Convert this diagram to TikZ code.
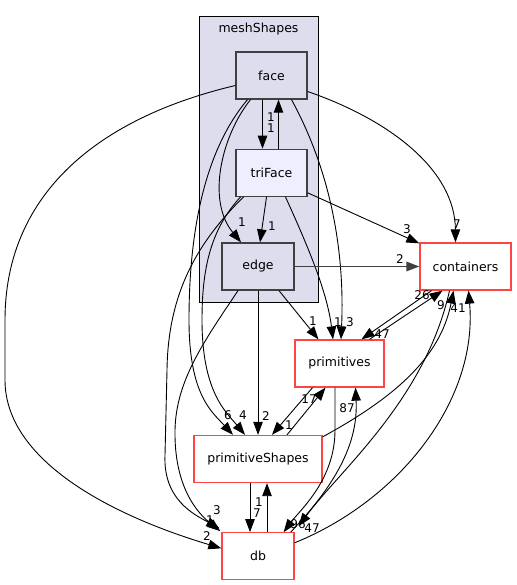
\documentclass[tikz,border=0pt]{standalone}
\usepackage{fontspec}
\setmainfont{DejaVu Sans}
\usepackage{xcolor}
\usepackage{tikz}
\usetikzlibrary{arrows.meta,positioning}
\definecolor{dirfill}{HTML}{DDDDEE}
\definecolor{hlfill}{HTML}{EEEEFF}
\definecolor{dirline}{HTML}{404040}
\definecolor{extline}{HTML}{FF4444}

\begin{document}
\begin{tikzpicture}[
  x=1pt,y=-1pt,
  node distance=49pt,
  font=\fontsize{12.5}{14}\selectfont,
  cluster/.style={draw=black,fill=dirfill,line width=0.9pt},
  dirbox/.style={draw=dirline,fill=dirfill,line width=1.3pt,minimum width=71pt,minimum height=47pt,inner sep=0pt},
  dirhl/.style={dirbox,fill=hlfill},
  extbox/.style={draw=extline,fill=white,line width=1.3pt,minimum height=47pt,inner sep=0pt},
  dep/.style={-{Triangle[length=13pt,width=9.5pt]},line width=0.9pt,draw=black},
  lbl/.style={font=\fontsize{12}{13}\selectfont,inner sep=0pt}
]
\useasboundingbox (0,0) rectangle (516,585);
\draw[cluster] (199,16) rectangle (318,302);
\node (meshlbl) at (258.5,29) {meshShapes};

\node[dirbox] (face) at (271.5,75.5) {face};
\node[dirhl,below=of face] (triFace) {triFace};
\node[dirbox,minimum width=72pt] (edge) at (258,266.5) {edge};
\node[extbox,minimum width=91pt] (containers) at (465.5,266.5) {containers};
\node[extbox,minimum width=89pt] (primitives) at (339.5,363.5) {primitives};
\node[extbox,minimum width=128pt] (primitiveShapes) at (258,459) {primitiveShapes};
\node[extbox,minimum width=72pt,below=of primitiveShapes] (db) {db};

% face
\draw[dep] ([xshift=-9]face.south) -- ([xshift=-9]triFace.north) node[lbl] at (271,128) {1};
\draw[dep] ([xshift=-21]face.south) .. controls (222,135) and (206,200) .. ([xshift=-17]edge.north) node[lbl] at (242,222) {1};
\draw[dep] ([xshift=-24]face.south) .. controls (205,150) and (189,230) .. (189,320) .. controls (189,395) and (212,412) .. ([xshift=-25]primitiveShapes.north) node[lbl] at (228,415) {6};
\draw[dep] ([xshift=20]face.south) .. controls (330,170) and (345,250) .. ([xshift=1.5]primitives.north) node[lbl] at (350,322) {3};
\draw[dep] ([yshift=-16]face.east) .. controls (390,120) and (455,170) .. ([xshift=-10]containers.north) node[lbl] at (457,224) {7};
\draw[dep] ([yshift=-10]face.west) .. controls (90,120) and (5,200) .. (5,320) -- (5,380) .. controls (5,460) and (110,515) .. ([yshift=8]db.west) node[lbl] at (207,536) {2};

% triFace
\draw[dep] ([xshift=7]triFace.north) -- ([xshift=7]face.south) node[lbl] at (271,117) {1};
\draw[dep] ([xshift=-5]triFace.south) -- ([xshift=2]edge.north) node[lbl] at (272,226) {1};
\draw[dep] ([yshift=-20]triFace.east) -- ([yshift=-1]containers.north west) node[lbl] at (407,229) {3};
\draw[dep] ([xshift=14]triFace.south) .. controls (305,240) and (327,290) .. ([xshift=-6.5]primitives.north) node[lbl] at (338,322) {1};
\draw[dep] ([xshift=-31]triFace.south) .. controls (210,230) and (202,270) .. (202,320) .. controls (202,392) and (226,412) .. ([xshift=-13]primitiveShapes.north) node[lbl] at (243,415) {4};
\draw[dep] ([xshift=-28]triFace.south) .. controls (200,240) and (168,290) .. (167,370) -- (165,455) .. controls (163,500) and (195,515) .. ([xshift=-2,yshift=4]db.north west) node[lbl] at (217,510) {3};

% edge
\draw[dep,draw=dirline,line width=1.6pt] (edge.east) -- (containers.west) node[lbl] at (400,259) {2};
\draw[dep] ([xshift=21]edge.south) -- ([xshift=-21]primitives.north) node[lbl] at (313,321) {1};
\draw[dep] (edge.south) -- (primitiveShapes.north) node[lbl] at (266,416) {2};
\draw[dep] ([xshift=-20]edge.south) .. controls (205,340) and (176,380) .. (175,430) .. controls (174,490) and (200,515) .. ([xshift=-1,yshift=1]db.north west) node[lbl] at (210,520) {1};

% containers
\draw[dep] ([xshift=-34]containers.south) -- ([xshift=22]primitives.north) node[lbl] at (382,334) {47};
\draw[dep] ([xshift=-16]containers.south) .. controls (425,400) and (340,470) .. ([xshift=4,yshift=6]db.north east) node[lbl] at (312,528) {47};

% primitives
\draw[dep] ([xshift=30]primitives.north) -- ([xshift=-23]containers.south) node[lbl] at (422,295) {26};
\draw[dep] ([xshift=-27]primitives.south) -- ([xshift=14]primitiveShapes.north) node[lbl] at (309,399) {17};
\draw[dep] ([xshift=-4.5]primitives.south) -- (335,430) .. controls (335,480) and (300,510) .. ([xshift=-11]db.north east) node[lbl] at (298,524) {96};

% primitiveShapes
\draw[dep] ([xshift=29]primitiveShapes.north) -- ([xshift=-14]primitives.south) node[lbl] at (289,425) {1};
\draw[dep] ([yshift=-2]primitiveShapes.north east) .. controls (390,400) and (440,360) .. ([xshift=-12]containers.south) node[lbl] at (441,305) {9};
\draw[dep] ([xshift=-8]primitiveShapes.south) -- ([xshift=-8]db.north) node[lbl] at (257,513) {7};

% db
\draw[dep] ([xshift=9]db.north) -- ([xshift=9]primitiveShapes.south) node[lbl] at (259,502) {1};
\draw[dep] ([xshift=-4]db.north east) .. controls (340,480) and (358,440) .. ([xshift=16]primitives.south) node[lbl] at (347,408) {87};
\draw[dep] ([yshift=13.5]db.east) .. controls (400,500) and (478,400) .. ([xshift=3]containers.south) node[lbl] at (458,308) {41};
\end{tikzpicture}
\end{document}
